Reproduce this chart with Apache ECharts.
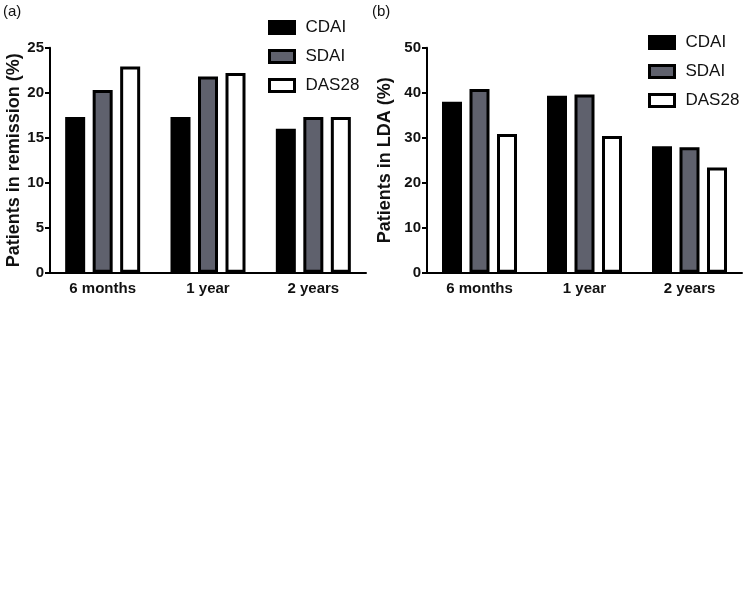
<!DOCTYPE html>
<html><head><meta charset="utf-8">
<script src="https://cdn.jsdelivr.net/npm/echarts@6/dist/echarts.min.js"></script>
<style>html,body{margin:0;padding:0;background:#fff}#c{width:750px;height:594px}</style>
</head><body><div id="c"></div>
<script>
const categories = ['6 months', '1 year', '2 years'];
const seriesNames = ['CDAI', 'SDAI', 'DAS28'];
// Panel (a): Patients in remission (%)
const remissionCDAI = [17.3, 17.3, 16.0];
const remissionSDAI = [20.3, 21.8, 17.3];
const remissionDAS28 = [22.9, 22.2, 17.3];
// Panel (b): Patients in LDA (%)
const ldaCDAI = [38.0, 39.3, 28.1];
const ldaSDAI = [40.8, 39.6, 27.9];
const ldaDAS28 = [30.8, 30.4, 23.4];
const yTicksA = [0, 5, 10, 15, 20, 25];
const yTicksB = [0, 10, 20, 30, 40, 50];

const fills = ['#000000', '#5f616d', '#ffffff'];
const font = 'Liberation Sans, Arial, sans-serif';

const chart = echarts.init(document.getElementById('c'), null, {renderer: 'canvas'});

function xAxis(gi) {
  return {
    type: 'category', gridIndex: gi, data: categories,
    axisLine: {lineStyle: {color: '#000', width: 2}},
    axisTick: {alignWithLabel: true, length: 5, lineStyle: {color: '#000', width: 2}},
    axisLabel: {color: '#111', fontFamily: font, fontWeight: 'bold', fontSize: 15, margin: 9},
  };
}
function yAxis(gi, ticks, name, gap) {
  return {
    type: 'value', gridIndex: gi, min: ticks[0], max: ticks[ticks.length - 1],
    interval: ticks[1] - ticks[0],
    name: name, nameLocation: 'middle', nameGap: gap,
    nameTextStyle: {color: '#111', fontFamily: font, fontWeight: 'bold', fontSize: 18},
    axisLine: {show: true, lineStyle: {color: '#000', width: 2}},
    axisTick: {show: true, length: 5, lineStyle: {color: '#000', width: 2}},
    axisLabel: {color: '#111', fontFamily: font, fontWeight: 'bold', fontSize: 15, margin: 6},
    splitLine: {show: false},
  };
}
function bar(name, data, gi, idx) {
  return {
    name: name, type: 'bar', xAxisIndex: gi, yAxisIndex: gi, data: data,
    barWidth: 20, barGap: '37.5%',
    itemStyle: {color: fills[idx], borderColor: '#000', borderWidth: 3},
    emphasis: {disabled: true}, animation: false,
  };
}
function legend(left, top) {
  return {
    orient: 'vertical', left: left, top: top, padding: 0, data: seriesNames,
    icon: 'rect', itemWidth: 25, itemHeight: 12, itemGap: 12,
    itemStyle: {borderColor: '#000', borderWidth: 3},
    textStyle: {color: '#111', fontFamily: font, fontSize: 17, padding: [0, 0, 0, 6]},
    selectedMode: false,
  };
}

chart.setOption({
  animation: false,
  grid: [
    {left: 50, top: 47.7, width: 316, height: 225},
    {left: 427, top: 47.7, width: 315, height: 225},
  ],
  xAxis: [xAxis(0), xAxis(1)],
  yAxis: [yAxis(0, yTicksA, 'Patients in remission (%)', 26), yAxis(1, yTicksB, 'Patients in LDA (%)', 33)],
  legend: [legend(268, 19), legend(648, 34)],
  series: [
    bar('CDAI', remissionCDAI, 0, 0), bar('SDAI', remissionSDAI, 0, 1), bar('DAS28', remissionDAS28, 0, 2),
    bar('CDAI', ldaCDAI, 1, 0), bar('SDAI', ldaSDAI, 1, 1), bar('DAS28', ldaDAS28, 1, 2),
  ],
  graphic: [
    {type: 'text', left: 3, top: 4, style: {text: '(a)', font: '15px ' + font, fill: '#111'}},
    {type: 'text', left: 372, top: 4, style: {text: '(b)', font: '15px ' + font, fill: '#111'}},
  ],
});
</script></body></html>
